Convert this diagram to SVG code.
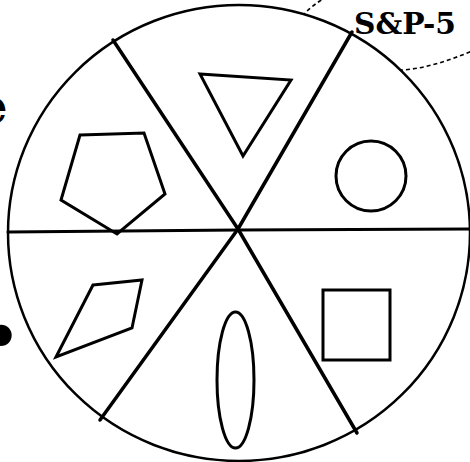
<svg xmlns="http://www.w3.org/2000/svg" width="470" height="462" viewBox="0 0 470 462">
<style>
.ln{fill:none;stroke:#000;stroke-linecap:round;stroke-linejoin:round}
.shape{fill:none;stroke:#000;stroke-width:3;stroke-linejoin:miter}
.dash{fill:none;stroke:#000;stroke-width:1.6;stroke-dasharray:4 3}
.lbl{font-family:"DejaVu Serif","Liberation Serif",serif;font-weight:bold;fill:#000}
</style>
<rect width="470" height="462" fill="#fff"/>
<g id="callout">
<path class="dash" d="M345,-15 C325,-2 300,10 295,30 C290,60 370,72 403,70 C430,68 455,58 480,48 C505,35 492,5 460,-6"/>
</g>
<g id="edge-text">
<text class="lbl" x="-23" y="123" font-size="48">e</text>
<text class="lbl" x="-18" y="358" font-size="60" style="font-family:'DejaVu Sans',sans-serif">•</text>
</g>
<g id="wheel">
<ellipse cx="239" cy="233" rx="231" ry="228" fill="#fff" stroke="#000" stroke-width="2.5"/>
</g>
<g id="connectors">
<polyline class="ln" stroke-width="3.5" points="113,40 238,229 357,433"/>
<polyline class="ln" stroke-width="3.5" points="352,32 238,229 100,420"/>
<polyline class="ln" stroke-width="3" points="8,232 238,230 469,229"/>
</g>
<g id="triangle"><polygon class="shape" points="200,74 291,80 243,156"/></g>
<g id="circle"><circle class="shape" cx="371" cy="176" r="35" stroke-width="2.5"/></g>
<g id="square"><rect class="shape" x="323" y="290" width="67" height="70"/></g>
<g id="oval"><ellipse class="shape" cx="235.5" cy="380" rx="18.5" ry="68" stroke-width="2.5"/></g>
<g id="kite"><polygon class="shape" points="93,285 142,280 132,328 56,357"/></g>
<g id="pentagon"><polygon class="shape" points="80,135 144,133 165,194 117,234 61,200"/></g>
<g id="label">
<text class="lbl" x="354" y="34" font-size="30" textLength="102" lengthAdjust="spacingAndGlyphs">S&amp;P-5</text>
</g>
</svg>
